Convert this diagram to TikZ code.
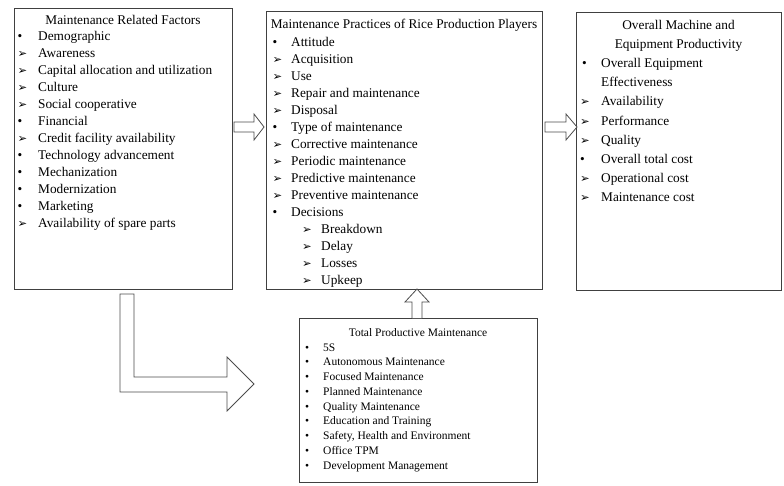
\documentclass[tikz,border=0pt]{standalone}
\usepackage{fontspec}
\setmainfont{Liberation Serif}
\newfontfamily\dvsans{DejaVu Sans}
\newcommand\arw{{\dvsans\fontsize{11.5}{11.5}\selectfont ➢}}
\newcommand\bul{•}
\begin{document}
\begin{tikzpicture}[x=1pt,y=-1pt,
  box/.style={draw=black!75, line width=0.8pt, rectangle, inner sep=0pt, outer sep=0pt, anchor=north west},
  txt/.style={inner sep=0pt, anchor=base west, font=\fontsize{13.3}{16}\selectfont},
  ttl/.style={inner sep=0pt, anchor=base, font=\fontsize{13.3}{16}\selectfont},
  stxt/.style={inner sep=0pt, anchor=base west, font=\fontsize{11.5}{14}\selectfont},
  sttl/.style={inner sep=0pt, anchor=base, font=\fontsize{11.5}{14}\selectfont},
  blk/.style={draw=black!70, line width=0.8pt, fill=white, line join=miter}]
\useasboundingbox (0,0) rectangle (784,485);

% boxes
\node[box, minimum width=218pt, minimum height=281pt] (fac) at (14,8) {};
\node[box, minimum width=276pt, minimum height=278pt] (prac) at (266,11) {};
\node[box, minimum width=205pt, minimum height=278pt] (prod) at (576,12) {};
\node[box, minimum width=238pt, minimum height=164pt] (tpm) at (299,318) {};

% box 1
\node[ttl] (facT) at (123,24) {Maintenance Related Factors};
\foreach \m/\t [count=\i from 0] in {\bul/Demographic, \arw/Awareness,
  \arw/Capital allocation and utilization, \arw/Culture, \arw/Social cooperative,
  \bul/Financial, \arw/Credit facility availability, \bul/Technology advancement,
  \bul/Mechanization, \bul/Modernization, \bul/Marketing, \arw/Availability of spare parts}
  \node[txt] (fac-\i) at (17.5,40.5+17*\i) {\makebox[20.5pt][l]{\m}\t};

% box 2
\node[ttl] (pracT) at (404,28.5) {Maintenance Practices of Rice Production Players};
\foreach \m/\t [count=\i from 0] in {\bul/Attitude, \arw/Acquisition, \arw/Use,
  \arw/Repair and maintenance, \arw/Disposal, \bul/Type of maintenance,
  \arw/Corrective maintenance, \arw/Periodic maintenance, \arw/Predictive maintenance,
  \arw/Preventive maintenance, \bul/Decisions}
  \node[txt] (prac-\i) at (272.5,46+17*\i) {\makebox[18.5pt][l]{\m}\t};
\foreach \t [count=\i from 0] in {Breakdown, Delay, Losses, Upkeep}
  \node[txt] (dec-\i) at (302,233+17*\i) {\makebox[19pt][l]{\arw}\t};

% box 3
\node[ttl] (prodT1) at (678.5,29.5) {Overall Machine and};
\node[ttl] (prodT2) at (678.5,48.6) {Equipment Productivity};
\node[txt] (prod-0) at (580,67.7) {\makebox[21pt][l]{\hspace{2pt}\bul}Overall Equipment};
\node[txt] (prod-0b) at (601,86.8) {Effectiveness};
\foreach \m/\t [count=\i from 1] in {\arw/Availability, \arw/Performance, \arw/Quality,
  \bul/Overall total cost, \arw/Operational cost, \arw/Maintenance cost}
  \node[txt] (prod-\i) at (580,86.8+19.1*\i) {\makebox[21pt][l]{\m}\t};

% TPM box
\node[sttl] (tpmT) at (418,336) {Total Productive Maintenance};
\foreach \t [count=\i from 0] in {5S, Autonomous Maintenance, Focused Maintenance,
  Planned Maintenance, Quality Maintenance, Education and Training,
  {Safety, Health and Environment}, Office TPM, Development Management}
  \node[stxt] (tpm-\i) at (305,351+14.75*\i) {\makebox[18pt][l]{\bul}\t};

% block arrows
\draw[blk] (234,122) -- (254,122) -- (254,114) -- (264,127) -- (254,140) -- (254,132) -- (234,132) -- cycle;
\draw[blk] (545,122) -- (566,122) -- (566,114) -- (577,127) -- (566,140) -- (566,132) -- (545,132) -- cycle;
\draw[blk] (412,318) -- (412,302) -- (405,302) -- (417,289) -- (429,302) -- (422,302) -- (422,318);
\draw[blk] (120,294) -- (134,294) -- (134,377) -- (227,377) -- (227,357) -- (254,384) -- (227,411) -- (227,392) -- (120,392) -- cycle;
\end{tikzpicture}
\end{document}
